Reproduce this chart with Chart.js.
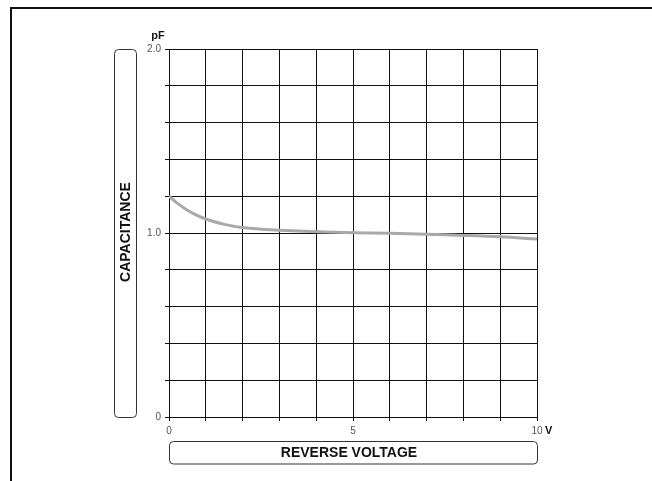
<!DOCTYPE html>
<html lang="en">
<head>
    <meta charset="UTF-8">
    <title>Capacitance vs reverse voltage</title>
    <script src="https://cdn.jsdelivr.net/npm/chart.js@4.4.1/dist/chart.umd.min.js"></script>
    <style>
        body { margin: 0; background: #fff; }
    </style>
</head>
<body>
    <canvas id="myChart" width="652" height="481"></canvas>
    <script>
        // values
        const voltage = [0, 0.25, 0.5, 0.75, 1, 1.5, 2, 2.5, 3, 4, 5, 6, 7, 8, 9, 10];
        const capacitance = [1.2, 1.158, 1.124, 1.097, 1.076, 1.047, 1.03, 1.021, 1.015, 1.007, 1.002, 0.998, 0.993, 0.987, 0.979, 0.967];
        const xLabels = { 0: '0', 5: '5', 10: '10' };
        const yLabels = { 0: '0', 1: '1.0', 2: '2.0' };

        function labelFor(map, value) {
            for (let k in map) {
                if (Math.abs(value - Number(k)) < 1e-6) return map[k];
            }
            return '';
        }

        // frame, caption boxes and units
        const decorations = {
            id: 'decorations',
            afterDraw(chart) {
                const ctx = chart.ctx;
                const a = chart.chartArea;
                ctx.save();

                ctx.strokeStyle = '#111';
                ctx.lineWidth = 2;
                ctx.beginPath();
                ctx.moveTo(11, 481);
                ctx.lineTo(11, 8);
                ctx.lineTo(652, 8);
                ctx.stroke();

                ctx.lineWidth = 1;
                ctx.strokeStyle = '#333';
                ctx.beginPath();
                ctx.roundRect(114.5, a.top + 0.5, 22, a.bottom - a.top, 4);
                ctx.stroke();
                ctx.beginPath();
                ctx.roundRect(a.left + 0.5, 441.5, a.right - a.left, 22.5, 4);
                ctx.stroke();

                ctx.fillStyle = '#111';
                ctx.font = 'bold 14px "Liberation Sans", Arial, sans-serif';
                ctx.textAlign = 'center';
                ctx.textBaseline = 'middle';
                ctx.fillText('REVERSE VOLTAGE', 349, 453);

                ctx.save();
                ctx.translate(126, 232);
                ctx.rotate(-Math.PI / 2);
                ctx.fillText('CAPACITANCE', 0, 0);
                ctx.restore();

                ctx.font = 'bold 11px "Liberation Sans", Arial, sans-serif';
                ctx.fillText('pF', 158, 36);
                ctx.textAlign = 'left';
                ctx.fillText('V', 545, 431);
                ctx.restore();
            }
        };

        const ctx = document.getElementById('myChart').getContext('2d');
        const myChart = new Chart(ctx, {
            type: 'line',
            data: {
                datasets: [{
                    data: voltage.map((v, i) => ({ x: v, y: capacitance[i] })),
                    borderColor: '#aca8a8',
                    borderWidth: 3,
                    pointRadius: 0,
                    tension: 0.4,
                    fill: false
                }]
            },
            options: {
                responsive: false,
                animation: false,
                layout: { padding: { left: 0, top: 49, right: 115, bottom: 0 } },
                plugins: { legend: { display: false }, tooltip: { enabled: false } },
                scales: {
                    x: {
                        type: 'linear',
                        min: 0,
                        max: 10,
                        afterFit: s => { s.height = 64; },
                        grid: { color: '#111', lineWidth: 1, tickLength: 4 },
                        border: { color: '#111' },
                        ticks: {
                            stepSize: 1,
                            autoSkip: false,
                            maxRotation: 0,
                            padding: 4,
                            color: '#555',
                            font: { family: '"Liberation Sans", Arial, sans-serif', size: 10 },
                            callback: v => labelFor(xLabels, v)
                        }
                    },
                    y: {
                        min: 0,
                        max: 2,
                        afterFit: s => { s.width = 169; },
                        grid: { color: '#111', lineWidth: 1, tickLength: 4 },
                        border: { color: '#111' },
                        ticks: {
                            stepSize: 0.2,
                            autoSkip: false,
                            padding: 4,
                            color: '#555',
                            font: { family: '"Liberation Sans", Arial, sans-serif', size: 10 },
                            callback: v => labelFor(yLabels, v)
                        }
                    }
                }
            },
            plugins: [decorations]
        });
    </script>
</body>
</html>
